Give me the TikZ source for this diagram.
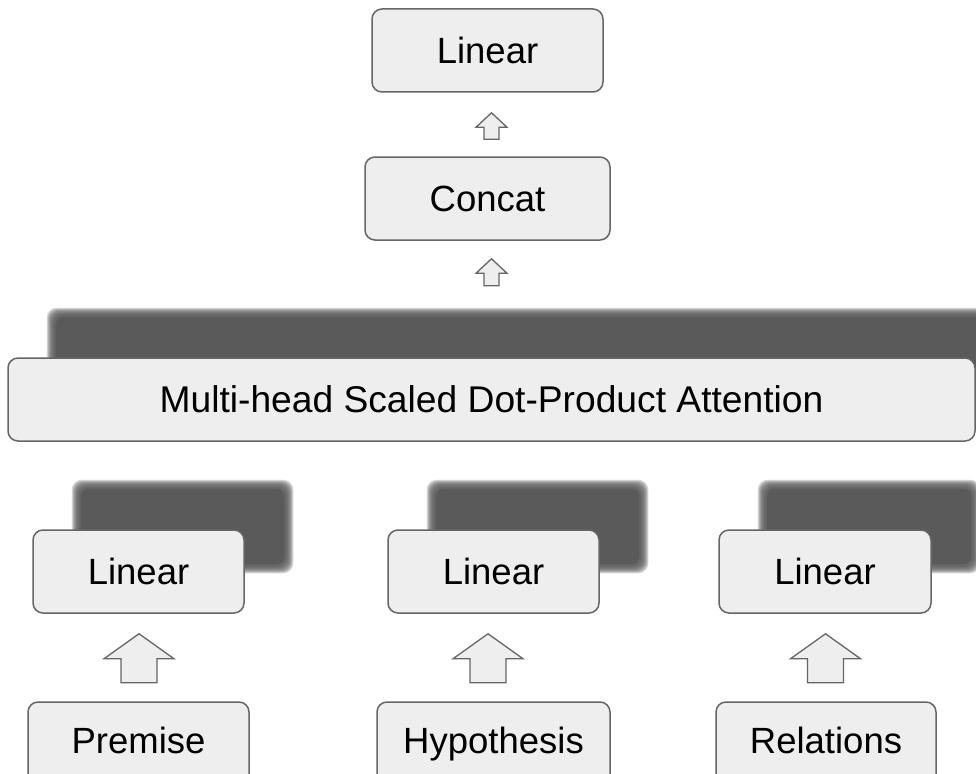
\documentclass[tikz,border=0pt]{standalone}
\usepackage{fontspec}
\setmainfont{Liberation Sans}
\usetikzlibrary{calc,backgrounds}

\definecolor{boxfill}{HTML}{EEEEEE}
\definecolor{boxline}{HTML}{666666}
\definecolor{stackshade}{HTML}{5A5A5A}

\tikzset{
  blk/.style={draw=boxline, fill=boxfill, line width=1.5pt, rounded corners=10pt,
    inner sep=0pt, text height=26pt, text depth=0pt,
    font=\fontsize{36.5}{40}\selectfont},
  inputblk/.style={blk, minimum height=90, text depth=14pt},
  liftstyle/.style={draw=boxline, fill=boxfill, line width=1.3pt, line join=miter},
}

% soft-edged copy of a box, shifted up and to the right (stacked heads)
\newcommand\stackshadow[1]{%
  \fill[stackshade, rounded corners=6pt]
    ($(#1.north west)+(44,-45)+(5,5)$) rectangle ($(#1.south east)+(44,-45)-(5,5)$);
  \foreach \d in {4.5,3.5,...,-4.5}{%
    \fill[stackshade, fill opacity=0.26, rounded corners=10pt]
      ($(#1.north west)+(44,-45)+(\d,\d)$) rectangle ($(#1.south east)+(44,-45)-(\d,\d)$);
  }%
}

% hollow block arrow pointing up: tip, length, head length, half head width, half shaft width
\newcommand\liftarrow[5]{%
  \draw[liftstyle] (#1) -- ++(#4,#3) -- ++({-(#4-#5)},0) -- ++(0,{#2-#3})
    -- ++({-2*#5},0) -- ++(0,{-(#2-#3)}) -- ++({-(#4-#5)},0) -- cycle;
}

\begin{document}
\begin{tikzpicture}[x=1pt, y=-1pt]
  \useasboundingbox (0,0) rectangle (976,773);

  % boxes
  \node[blk, minimum width=231, minimum height=83] (lin) at (487.5,50.5) {Linear};
  \node[blk, minimum width=245, minimum height=83] (cat) at (487.5,198.5) {Concat};
  \node[blk, minimum width=967, minimum height=83, font=\fontsize{37.2}{40}\selectfont]
    (mha) at (491.5,399.5) {Multi-head Scaled Dot-Product Attention};
  \node[blk, minimum width=211, minimum height=83] (linA) at (138.5,571.5) {Linear};
  \node[blk, minimum width=211, minimum height=83] (linB) at (493.5,571.5) {Linear};
  \node[blk, minimum width=212, minimum height=83] (linC) at (825,571.5) {Linear};
  \node[inputblk, minimum width=221] (prem) at (138.5,747) {Premise};
  \node[inputblk, minimum width=233] (hyp) at (493.5,747) {Hypothesis};
  \node[inputblk, minimum width=220] (rel) at (826,747) {Relations};

  % stacked copies behind the multi-head parts
  \begin{scope}[on background layer]
    \fill[white] (0,0) rectangle (976,773);
    \stackshadow{mha}
    \stackshadow{linA}
    \stackshadow{linB}
    \stackshadow{linC}
  \end{scope}

  % flow arrows
  \coordinate (t1) at ($(lin.south)+(4,20)$);
  \coordinate (t2) at ($(cat.south)+(4,18)$);
  \coordinate (tA) at ($(linA.south)+(0.5,20)$);
  \coordinate (tB) at ($(linB.south)+(-5.5,20)$);
  \coordinate (tC) at ($(linC.south)+(0.5,20)$);
  \liftarrow{t1}{26.5}{14.5}{15.5}{7.5}
  \liftarrow{t2}{27}{14.5}{15.5}{7.5}
  \liftarrow{tA}{49}{25}{35}{18}
  \liftarrow{tB}{49}{25}{35}{18}
  \liftarrow{tC}{49}{25}{35}{18}
\end{tikzpicture}
\end{document}
